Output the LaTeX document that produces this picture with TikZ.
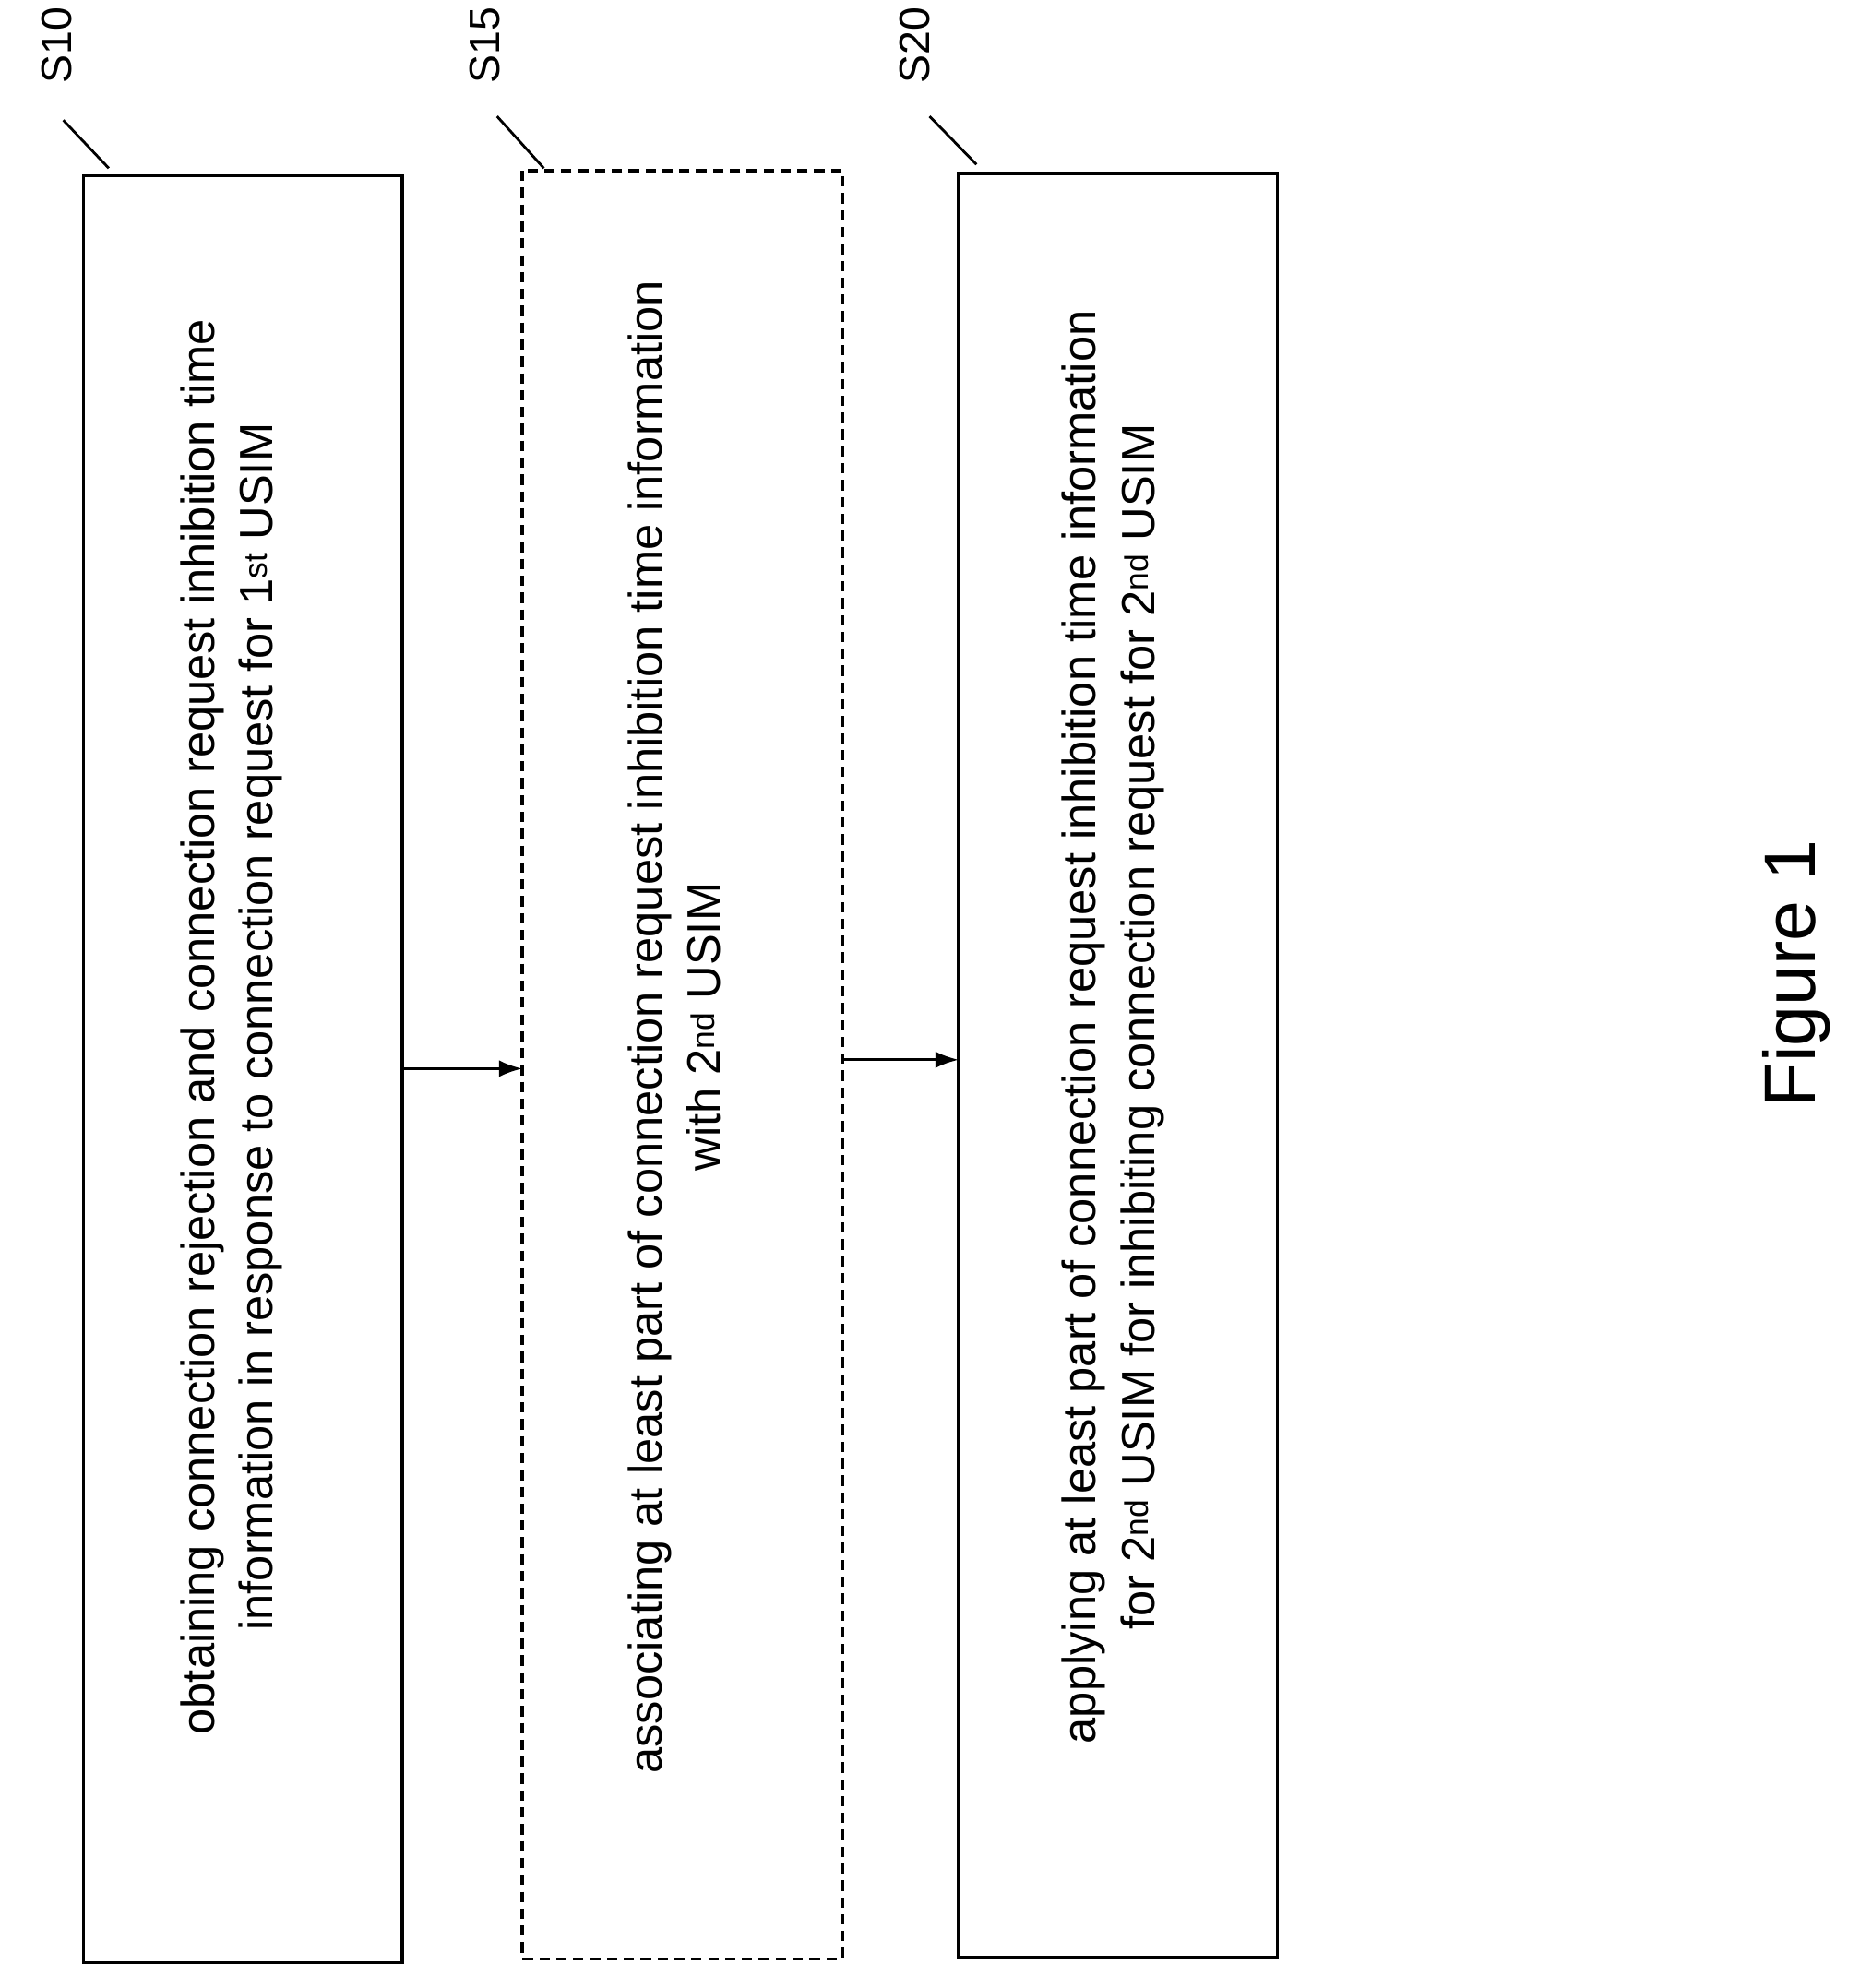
\documentclass[tikz,border=0pt]{standalone}
\usepackage{fontspec}
\setmainfont{Liberation Sans}
\usetikzlibrary{arrows.meta}
\begin{document}
\begin{tikzpicture}[x=0.0685cm,y=-0.0685cm,
  box/.style={draw,line width=5pt},
  txt/.style={rotate=90,align=center,font=\fontsize{72}{90}\selectfont},
  lab/.style={rotate=90,font=\fontsize{66}{70}\selectfont},
  arr/.style={-{Latex[length=36pt,width=26pt]},line width=4.5pt}]
\useasboundingbox (0,0) rectangle (1470,1572);
\draw[box] (66,139) rectangle (318,1552);
\draw[box,dash pattern=on 16pt off 10pt] (413,135) rectangle (666,1549);
\draw[box] (758,137) rectangle (1010,1548);
\coordinate (a1) at (318,845); \coordinate (b1) at (413,845);
\coordinate (a2) at (666,838); \coordinate (b2) at (758,838);
\draw[arr] (a1) -- (b1);
\draw[arr] (a2) -- (b2);
\node[txt] (t1) at (183,812) {obtaining connection rejection and connection request inhibition time\\information in response to connection request for 1\textsuperscript{st} USIM};
\node[txt] (t2) at (533,812) {associating at least part of connection request inhibition time information\\with 2\textsuperscript{nd} USIM};
\node[txt] (t3) at (880,812) {applying at least part of connection request inhibition time information\\for 2\textsuperscript{nd} USIM for inhibiting connection request for 2\textsuperscript{nd} USIM};
\node[lab] (l1) at (45,36) {S10};
\node[lab] (l2) at (383,36) {S15};
\node[lab] (l3) at (723,36) {S20};
\draw[line width=4pt] (50,95) -- (86,133);
\draw[line width=4pt] (393,92) -- (430,133);
\draw[line width=4pt] (735,92) -- (772,130);
\node[rotate=90,font=\fontsize{112}{116}\selectfont] (fig) at (1420,770) {Figure 1};
\end{tikzpicture}
\end{document}
